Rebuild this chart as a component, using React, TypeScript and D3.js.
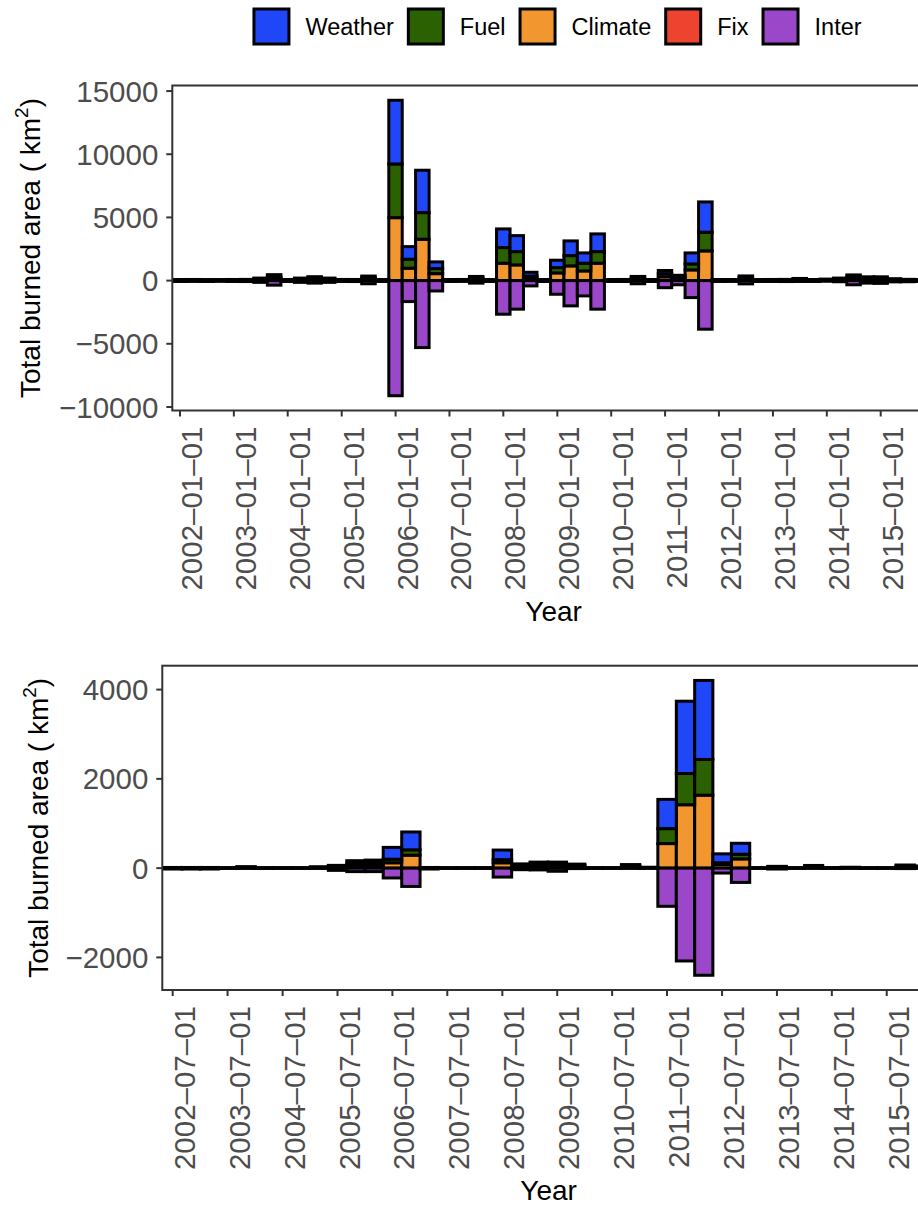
import React, { useEffect, useRef } from 'react';
import * as d3 from 'd3';

// legend (ggplot fill order)
const categories = ['Weather', 'Fuel', 'Climate', 'Fix', 'Inter'];
const colors = ['#2047F7', '#2B6100', '#F29630', '#EE442F', '#9B47C9'];

// top panel: quarterly totals (km2), first quarter 2002-01-01
const topWeather = [30, 30, 25, 30, 30, 35, 70, 160, 30, 70, 110, 70, 30, 35, 120, 30, 5040, 997, 3354, 530, 30, 35, 110, 30, 1479, 1266, 300, 30, 586, 1163, 814, 1401, 30, 30, 110, 30, 250, 140, 870, 2397, 30, 30, 120, 30, 30, 35, 60, 30, 40, 70, 150, 100, 100, 50, 35, 30];
const topFuel = [25, 25, 25, 20, 25, 25, 60, 140, 25, 60, 90, 60, 25, 25, 110, 25, 4250, 712, 2105, 400, 25, 25, 100, 25, 1234, 1052, 160, 25, 419, 815, 610, 917, 25, 25, 100, 25, 250, 130, 474, 1479, 25, 25, 110, 25, 25, 25, 50, 25, 35, 60, 140, 90, 90, 45, 30, 25];
const topClimate = [30, 35, 30, 30, 35, 35, 70, 170, 30, 70, 110, 70, 35, 30, 130, 30, 4980, 981, 3275, 550, 30, 30, 120, 30, 1377, 1242, 200, 30, 609, 1163, 767, 1377, 30, 35, 120, 30, 300, 150, 847, 2350, 30, 30, 140, 30, 35, 35, 60, 30, 45, 70, 160, 110, 110, 55, 35, 30];
const topInter = [-70, -65, -70, -60, -70, -75, -140, -360, -70, -140, -200, -140, -70, -75, -250, -70, -9110, -1660, -5300, -820, -70, -65, -200, -70, -2660, -2260, -420, -70, -1080, -2000, -1210, -2260, -70, -70, -250, -70, -560, -330, -1345, -3845, -70, -65, -260, -70, -70, -75, -70, -70, -50, -90, -330, -200, -220, -100, -90, -70];
const topTicks = ['2002-01-01', '2003-01-01', '2004-01-01', '2005-01-01', '2006-01-01', '2007-01-01', '2008-01-01', '2009-01-01', '2010-01-01', '2011-01-01', '2012-01-01', '2013-01-01', '2014-01-01', '2015-01-01'];
const topYTicks = [-10000, -5000, 0, 5000, 10000, 15000];

// bottom panel: four-month totals (km2), first period 2002-05-01
const bottomWeather = [5, 5, 5, 2, 12, 2, 2, 2, 10, 20, 55, 60, 265, 400, 5, 2, 2, 2, 215, 30, 45, 45, 30, 2, 2, 25, 7, 655, 1620, 1770, 200, 245, 2, 13, 2, 20, 3, 7, 2, 2, 23, 15];
const bottomFuel = [5, 5, 5, 2, 10, 2, 2, 2, 10, 20, 50, 55, 80, 120, 5, 2, 2, 2, 70, 30, 40, 40, 30, 2, 2, 25, 6, 335, 700, 800, 40, 105, 2, 12, 2, 20, 3, 6, 2, 2, 22, 15];
const bottomClimate = [5, 5, 5, 2, 11, 2, 3, 2, 10, 22, 62, 65, 120, 290, 5, 2, 2, 3, 120, 35, 50, 50, 30, 2, 2, 30, 7, 550, 1420, 1635, 80, 207, 2, 15, 2, 20, 4, 7, 2, 2, 25, 20];
const bottomInter = [-20, -20, -20, -3, -5, -3, -3, -3, -5, -50, -78, -78, -220, -410, -20, -3, -3, -3, -200, -35, -40, -70, -10, -3, -3, -5, -3, -855, -2080, -2400, -110, -320, -5, -20, -3, -5, -3, -3, -3, -3, -10, -5];
const bottomTicks = ['2002-07-01', '2003-07-01', '2004-07-01', '2005-07-01', '2006-07-01', '2007-07-01', '2008-07-01', '2009-07-01', '2010-07-01', '2011-07-01', '2012-07-01', '2013-07-01', '2014-07-01', '2015-07-01'];
const bottomYTicks = [-2000, 0, 2000, 4000];

const FONT = '"Liberation Sans", Arial, Helvetica, sans-serif';
const W = 918;
const H = 1208;
const TICK_SIZE = 29.5;

interface PanelConfig {
  id: string;
  weather: number[];
  fuel: number[];
  climate: number[];
  inter: number[];
  first: Date;
  months: number; // months per bar
  centered: boolean; // bar centred on its date (else starts on it)
  ticks: string[];
  yTicks: number[];
  xStart: Date;
  pxPerDay: number;
  left: number;
  right: number;
  top: number;
  bottom: number;
  titleX: number;
  yearY: number;
}

const parse = d3.utcParse('%Y-%m-%d');

function drawPanel(svg: d3.Selection<SVGSVGElement, unknown, null, undefined>, cfg: PanelConfig) {
  const dates = cfg.weather.map((_, k) => d3.utcMonth.offset(cfg.first, k * cfg.months));
  const rows = dates.map((date, k) => ({
    date,
    Climate: cfg.climate[k],
    Fuel: cfg.fuel[k],
    Weather: cfg.weather[k],
    Inter: cfg.inter[k],
  }));

  const keys = ['Climate', 'Fuel', 'Weather', 'Inter'];
  const colorOf: Record<string, string> = {};
  categories.forEach((c, k) => (colorOf[c] = colors[k]));

  const series = d3
    .stack<any>()
    .keys(keys)
    .offset(d3.stackOffsetDiverging)(rows);

  const lo = d3.min(series, (s) => d3.min(s, (d) => d[0])) || 0;
  const hi = d3.max(series, (s) => d3.max(s, (d) => d[1])) || 0;
  const pad = (hi - lo) * 0.05;

  const y = d3.scaleLinear().domain([lo - pad, hi + pad]).range([cfg.bottom, cfg.top]);
  const xEnd = d3.utcDay.offset(cfg.xStart, Math.round((cfg.right - cfg.left) / cfg.pxPerDay));
  const x = d3.scaleUtc().domain([cfg.xStart, xEnd]).range([cfg.left, cfg.right]);

  const span = (d: Date): [number, number] => {
    if (cfg.centered) {
      const a = d3.utcMonth.offset(d, -cfg.months);
      const b = d3.utcMonth.offset(d, cfg.months);
      return [x((+a + +d) / 2), x((+d + +b) / 2)];
    }
    return [x(d), x(d3.utcMonth.offset(d, cfg.months))];
  };

  svg
    .append('clipPath')
    .attr('id', `clip-${cfg.id}`)
    .append('rect')
    .attr('x', cfg.left)
    .attr('y', cfg.top)
    .attr('width', cfg.right - cfg.left)
    .attr('height', cfg.bottom - cfg.top);

  const plot = svg.append('g').attr('clip-path', `url(#clip-${cfg.id})`);

  series.forEach((s) => {
    plot
      .append('g')
      .selectAll('rect')
      .data(s)
      .enter()
      .append('rect')
      .attr('x', (d: any) => span(d.data.date)[0])
      .attr('width', (d: any) => span(d.data.date)[1] - span(d.data.date)[0])
      .attr('y', (d) => y(d[1]))
      .attr('height', (d) => Math.max(0, y(d[0]) - y(d[1])))
      .attr('fill', colorOf[s.key])
      .attr('stroke', '#000')
      .attr('stroke-width', 3);
  });

  // panel border
  svg
    .append('rect')
    .attr('x', cfg.left)
    .attr('y', cfg.top)
    .attr('width', cfg.right - cfg.left)
    .attr('height', cfg.bottom - cfg.top)
    .attr('fill', 'none')
    .attr('stroke', '#333')
    .attr('stroke-width', 2);

  // y axis
  const fmt = d3.format('d');
  const yAxis = svg.append('g');
  cfg.yTicks.forEach((t) => {
    yAxis
      .append('line')
      .attr('x1', cfg.left - 6)
      .attr('x2', cfg.left)
      .attr('y1', y(t))
      .attr('y2', y(t))
      .attr('stroke', '#333')
      .attr('stroke-width', 2);
    yAxis
      .append('text')
      .attr('x', cfg.left - 14)
      .attr('y', y(t))
      .attr('dy', '0.36em')
      .attr('text-anchor', 'end')
      .attr('font-size', TICK_SIZE)
      .attr('font-family', FONT)
      .attr('fill', '#4D4D4D')
      .text(t < 0 ? '\u2212' + fmt(-t) : fmt(t));
  });

  // x axis
  const xAxis = svg.append('g');
  cfg.ticks.forEach((t) => {
    const tx = x(parse(t)!);
    xAxis
      .append('line')
      .attr('x1', tx)
      .attr('x2', tx)
      .attr('y1', cfg.bottom)
      .attr('y2', cfg.bottom + 6)
      .attr('stroke', '#333')
      .attr('stroke-width', 2);
    xAxis
      .append('text')
      .attr('transform', `translate(${tx},${cfg.bottom + 16}) rotate(-90)`)
      .attr('y', 22)
      .attr('text-anchor', 'end')
      .attr('font-size', TICK_SIZE)
      .attr('font-family', FONT)
      .attr('fill', '#4D4D4D')
      .text(t.replace(/-/g, '\u2013'));
  });

  // axis titles
  svg
    .append('text')
    .attr('x', (cfg.left + cfg.right) / 2)
    .attr('y', cfg.yearY)
    .attr('text-anchor', 'middle')
    .attr('font-size', 28)
    .attr('font-family', FONT)
    .attr('fill', '#000')
    .text('Year');

  const title = svg
    .append('text')
    .attr('transform', `translate(${cfg.titleX},${(cfg.top + cfg.bottom) / 2}) rotate(-90)`)
    .attr('text-anchor', 'middle')
    .attr('font-size', 28)
    .attr('font-family', FONT)
    .attr('fill', '#000');
  title.append('tspan').text('Total burned area ( km');
  title.append('tspan').attr('font-size', 19).attr('dy', -12).text('2');
  title.append('tspan').attr('dy', 12).text(')');
}

function drawLegend(svg: d3.Selection<SVGSVGElement, unknown, null, undefined>) {
  const fontSize = 23.5;
  const ctx = document.createElement('canvas').getContext('2d')!;
  ctx.font = `${fontSize}px ${FONT}`;
  const box = 35;
  const widths = categories.map((c) => ctx.measureText(c).width);
  const itemW = widths.map((w) => box + 3 + 15 + w);
  const total = d3.sum(itemW) + 13 * (categories.length - 1);
  const cy = 26.5;
  let cx = 557 - total / 2;
  const g = svg.append('g');
  categories.forEach((c, k) => {
    g.append('rect')
      .attr('x', cx + 1.5)
      .attr('y', cy - box / 2)
      .attr('width', box)
      .attr('height', box)
      .attr('fill', colors[k])
      .attr('stroke', '#000')
      .attr('stroke-width', 3);
    g.append('text')
      .attr('x', cx + box + 3 + 15)
      .attr('y', cy)
      .attr('dy', '0.36em')
      .attr('font-size', fontSize)
      .attr('font-family', FONT)
      .attr('fill', '#000')
      .text(c);
    cx += itemW[k] + 13;
  });
}

const App: React.FC = () => {
  const chartRef = useRef<SVGSVGElement | null>(null);

  useEffect(() => {
    const svg = d3.select(chartRef.current!) as d3.Selection<SVGSVGElement, unknown, null, undefined>;
    svg.selectAll('*').remove();
    svg.append('rect').attr('width', W).attr('height', H).attr('fill', '#fff');

    drawLegend(svg);

    drawPanel(svg, {
      id: 'top',
      weather: topWeather,
      fuel: topFuel,
      climate: topClimate,
      inter: topInter,
      first: parse('2002-01-01')!,
      months: 3,
      centered: true,
      ticks: topTicks,
      yTicks: topYTicks,
      xStart: parse('2001-11-10')!,
      pxPerDay: 0.14758,
      left: 172.3,
      right: 935,
      top: 85.5,
      bottom: 410.5,
      titleX: 40,
      yearY: 621,
    });

    drawPanel(svg, {
      id: 'bottom',
      weather: bottomWeather,
      fuel: bottomFuel,
      climate: bottomClimate,
      inter: bottomInter,
      first: parse('2002-05-01')!,
      months: 4,
      centered: false,
      ticks: bottomTicks,
      yTicks: bottomYTicks,
      xStart: parse('2002-04-23')!,
      pxPerDay: 0.15038,
      left: 162.3,
      right: 935,
      top: 665.7,
      bottom: 990,
      titleX: 48,
      yearY: 1200,
    });
  }, []);

  return (
    <svg
      ref={chartRef}
      width={W}
      height={H}
      style={{ position: 'absolute', left: 0, top: 0, display: 'block' }}
    ></svg>
  );
};

export default App;
